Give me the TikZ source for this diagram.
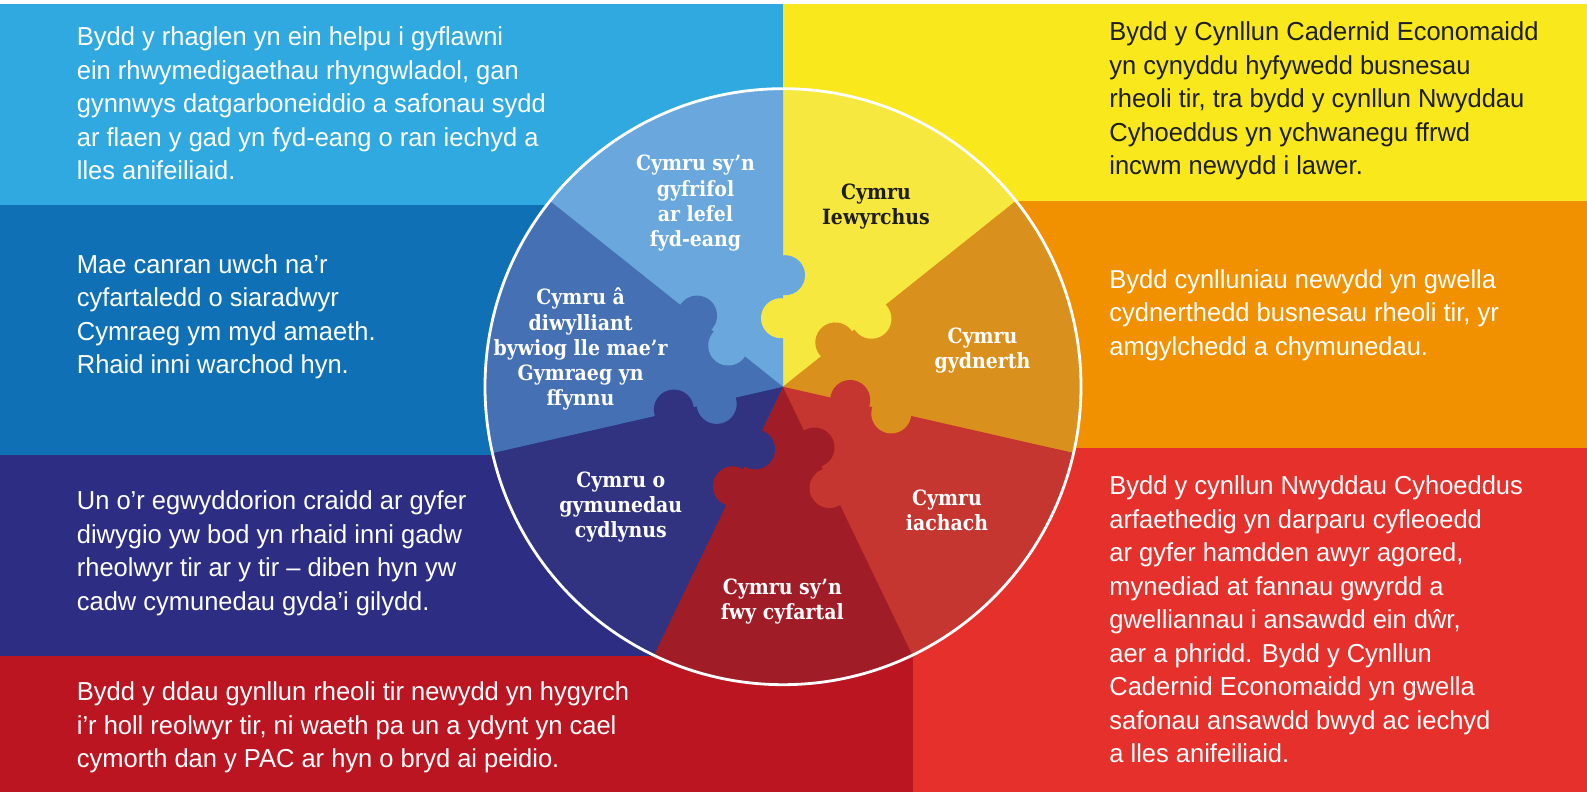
\documentclass[tikz,border=0pt]{standalone}
\usepackage{fontspec}
\setmainfont{Liberation Sans}[FakeStretch=0.98]
\newfontfamily\wheelfont{DejaVu Serif}[FakeStretch=0.9]

\definecolor{skybg}{HTML}{2FA9E0}
\definecolor{midbg}{HTML}{0F70B6}
\definecolor{navybg}{HTML}{2D2E83}
\definecolor{winebg}{HTML}{BB1522}
\definecolor{yellowbg}{HTML}{F9E81B}
\definecolor{orangebg}{HTML}{F19100}
\definecolor{redbg}{HTML}{E5302B}
\definecolor{skypc}{HTML}{6AA7DC}
\definecolor{midpc}{HTML}{4570B3}
\definecolor{navypc}{HTML}{313380}
\definecolor{winepc}{HTML}{A01C26}
\definecolor{redpc}{HTML}{C63630}
\definecolor{orangepc}{HTML}{DA901C}
\definecolor{yellowpc}{HTML}{F6E83E}
\definecolor{inkblack}{HTML}{1D1D1B}

\tikzset{
  bodytext/.style={anchor=base west, align=left, inner sep=0pt, text=white,
    font=\fontsize{13}{16.75}\selectfont},
  wheeltext/.style={anchor=base, align=center, inner sep=0pt, text=white,
    font=\wheelfont\bfseries\fontsize{10.5}{12.6}\selectfont}
}

\begin{document}
\begin{tikzpicture}[x=0.5pt, y=0.5pt]
        \useasboundingbox (0,0) rectangle (1587,792);
        % background
        \fill[white] (0,0) rectangle (1587,792);
        \fill[skybg] (0,587.3) rectangle (783,788);
        \fill[midbg] (0,337) rectangle (783,587.3);
        \fill[navybg] (0,136.3) rectangle (783,337);
        \fill[yellowbg] (783,591) rectangle (1587,788);
        \fill[orangebg] (783,343.7) rectangle (1587,591);
        \fill[redbg] (783,0) rectangle (1587,343.7);
        \fill[winebg] (0,0) rectangle (913,136.3);
        % wheel
        \coordinate (hub) at (783,405.3);
        \foreach \col [count=\k from 0] in {yellowpc, orangepc, redpc, winepc, navypc, midpc, skypc}
            \fill[\col] (hub) -- ++({90-(\k+1)*360/7}:298)
                arc[start angle={90-(\k+1)*360/7}, end angle={90-\k*360/7}, radius=298] -- cycle;
        % knobs
        \foreach \inner/\outer [count=\k from 0] in {yellowpc/skypc, orangepc/yellowpc, redpc/orangepc,
                winepc/redpc, navypc/winepc, midpc/navypc, skypc/midpc} {
            \begin{scope}[shift={(hub)}, rotate={90-\k*360/7}]
                \fill[\inner] (68.5,2) circle[radius=20];
                \fill[\outer] (111.5,-2) circle[radius=20];
            \end{scope}
        }
        \draw[white, line width=1.4pt] (hub) circle[radius=298];
        % wheel labels (anchored at the last line)
        \node[wheeltext] (lblglobal) at (695.5,545.4) {Cymru sy’n\\gyfrifol\\ar lefel\\fyd-eang};
        \node[wheeltext, text=inkblack] (lblprosper) at (876,567.7) {Cymru\\Iewyrchus};
        \node[wheeltext] (lblresilient) at (982.5,423) {Cymru\\gydnerth};
        \node[wheeltext] (lblhealthy) at (947,261.3) {Cymru\\iachach};
        \node[wheeltext] (lblequal) at (782.3,172) {Cymru sy’n\\fwy cyfartal};
        \node[wheeltext] (lblcohesive) at (620.8,254.1) {Cymru o\\gymunedau\\cydlynus};
        \node[wheeltext] (lblculture) at (580.6,386.3) {Cymru â\\diwylliant\\bywiog lle mae’r\\Gymraeg yn\\ffynnu};
        % texts (anchored at the last line)
        \node[bodytext] (txtglobal) at (76.5,612.3) {Bydd y rhaglen yn ein helpu i gyflawni\\
            ein rhwymedigaethau rhyngwladol, gan\\gynnwys datgarboneiddio a safonau sydd\\
            ar flaen y gad yn fyd-eang o ran iechyd a\\lles anifeiliaid.};
        \node[bodytext] (txtculture) at (76.5,418.2) {Mae canran uwch na’r\\cyfartaledd o siaradwyr\\
            Cymraeg ym myd amaeth.\\Rhaid inni warchod hyn.};
        \node[bodytext] (txtcohesive) at (76.5,181.5) {Un o’r egwyddorion craidd ar gyfer\\
            diwygio yw bod yn rhaid inni gadw\\rheolwyr tir ar y tir – diben hyn yw\\
            cadw cymunedau gyda’i gilydd.};
        \node[bodytext] (txtequal) at (76.5,24.3) {Bydd y ddau gynllun rheoli tir newydd yn hygyrch\\
            i’r holl reolwyr tir, ni waeth pa un a ydynt yn cael\\cymorth dan y PAC ar hyn o bryd ai peidio.};
        \node[bodytext, text=inkblack] (txtprosper) at (1109,617) {Bydd y Cynllun Cadernid Economaidd\\
            yn cynyddu hyfywedd busnesau\\rheoli tir, tra bydd y cynllun Nwyddau\\
            Cyhoeddus yn ychwanegu ffrwd\\incwm newydd i lawer.};
        \node[bodytext] (txtresilient) at (1109,436.7) {Bydd cynlluniau newydd yn gwella\\
            cydnerthedd busnesau rheoli tir, yr\\amgylchedd a chymunedau.};
        \node[bodytext] (txthealthy) at (1109,29) {Bydd y cynllun Nwyddau Cyhoeddus\\
            arfaethedig yn darparu cyfleoedd\\ar gyfer hamdden awyr agored,\\
            mynediad at fannau gwyrdd a\\gwelliannau i ansawdd ein dŵr,\\
            aer a phridd. Bydd y Cynllun\\Cadernid Economaidd yn gwella\\
            safonau ansawdd bwyd ac iechyd\\a lles anifeiliaid.};
\end{tikzpicture}
\end{document}
